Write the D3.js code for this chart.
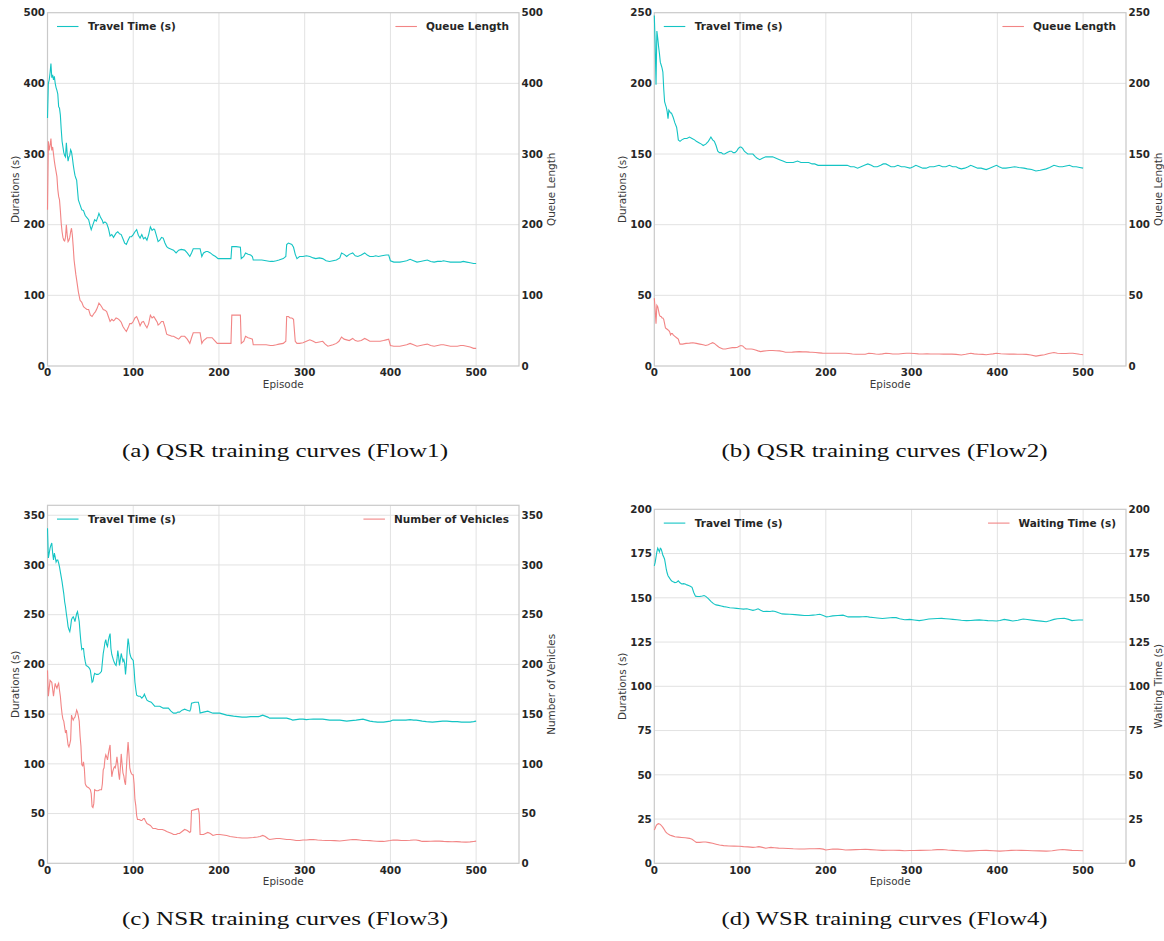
<!DOCTYPE html>
<html><head><meta charset="utf-8">
<script src="https://cdn.jsdelivr.net/npm/d3@7"></script>
<style>body{margin:0;background:#fff}svg{display:block}</style>
</head><body><svg id="chart" width="1164" height="941"></svg>
<script>
// ---------------- DATA (episode, value) ----------------
const flow1Travel = [[0,351],[1,400],[2,405],[3,415],[4,428],[5,408],[6,412],[7,405],[8,410],[9,400],[10,394],[11,390],[12,385],[13,367],[14,365],[15,355],[16,335],[17,318],[18,310],[19,302],[20,298],[21,296],[22,316],[23,300],[24,290],[25,296],[26,298],[27,306],[28,303],[29,295],[30,285],[31,277],[32,270],[33,266],[34,263],[36,235],[38,228],[40,221],[42,220],[44,213],[46,210],[48,207],[50,197],[51,193],[53,200],[55,207],[57,205],[59,212],[60,216],[62,210],[64,206],[65,202],[67,204],[69,202],[71,195],[73,184],[75,186],[77,182],[80,188],[82,190],[84,187],[86,186],[88,180],[90,174],[92,172],[94,178],[96,183],[98,183],[100,186],[102,190],[104,193],[106,185],[108,181],[110,186],[112,180],[114,182],[116,178],[118,186],[120,197],[122,192],[124,194],[125,193],[127,185],[129,176],[131,178],[133,182],[135,181],[137,174],[139,169],[141,167],[143,166],[145,165],[147,164],[150,160],[153,164],[156,165],[160,164],[163,160],[166,155],[168,160],[170,166],[174,166],[178,166],[180,155],[182,160],[185,162],[187,162],[190,160],[193,157],[196,155],[199,152],[201,152],[205,152],[210,152],[214,152],[215,169],[220,169],[225,168],[226,152],[229,155],[231,160],[234,158],[237,157],[239,155],[240,150],[245,150],[250,150],[255,149],[260,148],[263,148],[267,149],[270,150],[275,152],[278,155],[279,172],[281,174],[283,173],[285,172],[287,168],[289,158],[291,152],[294,155],[298,155],[302,156],[306,155],[310,153],[313,152],[317,153],[321,152],[325,149],[329,148],[333,149],[337,150],[341,153],[343,160],[346,158],[349,155],[352,158],[356,160],[359,156],[362,155],[366,157],[370,160],[373,157],[376,155],[380,155],[383,156],[386,155],[390,156],[395,157],[398,157],[400,149],[404,147],[408,147],[411,147],[415,148],[419,149],[423,151],[427,149],[431,147],[435,148],[439,149],[443,150],[447,148],[451,147],[455,148],[459,148],[462,149],[466,148],[470,147],[474,147],[478,147],[482,147],[485,148],[489,147],[493,146],[497,145],[500,145]];
const flow1Queue = [[0,221],[1,318],[2,305],[3,312],[4,322],[5,305],[6,310],[7,300],[8,290],[9,282],[10,275],[11,268],[12,250],[13,240],[14,235],[15,220],[16,202],[17,190],[18,182],[19,178],[20,177],[21,182],[22,200],[23,185],[24,176],[25,178],[26,182],[27,190],[28,195],[29,185],[30,169],[31,150],[32,140],[33,130],[34,122],[36,105],[38,93],[40,90],[42,84],[44,82],[46,80],[48,80],[50,72],[52,70],[54,74],[56,77],[58,82],[60,89],[62,86],[64,82],[65,80],[67,79],[69,77],[71,70],[73,63],[75,66],[77,64],[78,65],[80,68],[82,67],[84,65],[86,62],[88,56],[90,52],[92,49],[94,54],[96,60],[98,60],[100,63],[102,68],[104,70],[106,64],[108,57],[110,62],[112,63],[114,58],[116,54],[118,60],[120,72],[122,68],[124,70],[126,66],[128,62],[129,58],[131,60],[133,63],[135,63],[137,55],[139,45],[141,44],[143,43],[145,42],[147,42],[150,40],[153,38],[156,42],[160,42],[163,38],[166,32],[168,40],[170,47],[174,47],[178,47],[180,32],[182,36],[186,40],[189,40],[192,40],[195,36],[198,32],[201,32],[205,32],[210,32],[214,32],[215,72],[220,72],[225,72],[226,32],[229,35],[231,42],[234,40],[237,39],[239,38],[240,30],[245,30],[250,30],[255,30],[260,29],[263,29],[267,30],[270,31],[275,32],[278,35],[279,70],[281,70],[283,68],[285,68],[287,66],[289,35],[291,32],[294,32],[298,33],[302,35],[306,37],[310,35],[313,33],[317,34],[321,35],[324,31],[327,28],[330,29],[333,30],[337,32],[340,35],[343,41],[346,38],[349,37],[352,36],[356,39],[359,36],[362,35],[366,36],[370,39],[373,37],[376,35],[378,35],[382,35],[385,35],[388,35],[392,36],[395,37],[398,38],[400,29],[404,28],[408,28],[411,28],[415,29],[419,30],[423,32],[427,30],[431,28],[435,29],[439,30],[443,31],[447,29],[451,28],[455,29],[459,30],[462,30],[466,29],[470,28],[474,28],[478,28],[482,29],[485,29],[489,28],[493,27],[497,25],[500,25]];
const flow2Travel = [[0,248],[1,228],[2,199],[3,237],[4,232],[5,226],[6,221],[7,215],[8,213],[9,211],[10,208],[11,196],[12,187],[13,185],[14,183],[15,180],[16,175],[17,181],[18,180],[19,179],[20,179],[22,176],[24,172],[26,169],[27,165],[28,160],[30,159],[32,160],[35,161],[38,161],[41,162],[44,161],[47,160],[49,159],[52,158],[55,157],[57,156],[60,157],[63,159],[65,161],[66,162],[68,160],[70,159],[72,156],[74,152],[76,151],[78,151],[80,150],[82,150],[85,151],[88,152],[90,152],[92,151],[94,151],[96,152],[98,154],[100,155],[101,155],[103,154],[105,152],[107,151],[109,150],[112,150],[115,150],[118,148],[120,147],[123,146],[126,147],[130,148],[134,148],[138,148],[142,147],[146,146],[150,145],[154,144],[158,144],[162,144],[167,145],[171,144],[175,144],[180,144],[184,143],[187,143],[191,142],[195,142],[198,142],[203,142],[208,142],[214,142],[219,142],[225,142],[229,141],[233,141],[237,140],[241,141],[245,142],[249,143],[253,142],[256,141],[260,141],[264,142],[267,143],[270,143],[273,142],[276,141],[280,141],[284,142],[288,141],[292,141],[298,140],[302,141],[305,142],[309,141],[313,140],[317,140],[321,141],[326,141],[332,142],[336,141],[340,141],[344,142],[348,141],[352,141],[355,140],[358,139.5],[362,140],[366,141],[369,142],[373,141],[377,140],[381,140],[384,139.5],[387,139],[391,140],[395,141],[399,142],[402,141],[406,140],[410,140],[415,140.5],[420,141],[425,140.5],[431,140],[435,139.5],[440,139],[445,138],[450,138.5],[457,139.5],[461,140.5],[466,142],[469,141.5],[472,141],[476,141],[480,141.5],[484,142],[488,141],[492,141],[496,140.5],[500,140]];
const flow2Queue = [[0,48],[1,40],[2,30],[3,43],[4,42],[5,39],[6,36],[7,35],[8,35],[9,34],[10,34],[11,33],[12,30],[13,27],[15,26],[17,25],[18,24],[19,22],[20,23],[21,23],[22,22],[24,21],[26,20],[28,19],[29,17],[30,15.5],[33,15.5],[37,16],[41,16.2],[45,16.5],[49,16],[53,15.5],[57,15],[60,14.5],[63,15],[66,16],[68,16.5],[70,16],[72,15],[74,14],[76,13],[78,12.5],[80,12],[83,12],[87,12.5],[91,13],[94,13],[97,13.3],[99,14],[101,14.5],[103,14.2],[105,13],[107,12],[110,12],[113,12],[115,11.8],[118,11.3],[121,10.7],[124,10.2],[127,10.5],[131,10.8],[134,11],[138,11],[142,10.8],[146,10.7],[150,10.2],[153,9.7],[157,9.7],[161,9.8],[165,10],[169,10.2],[173,10],[177,10],[181,9.8],[184,9.7],[188,9.5],[192,9.3],[196,9.1],[200,9],[205,9],[210,9],[216,9],[220,9],[223,9],[227,8.8],[231,8.5],[235,8.3],[240,8.3],[246,8.3],[250,9],[254,8.8],[258,8.5],[262,8.3],[266,8.6],[270,9],[274,8.8],[278,8.5],[282,8.5],[285,8.5],[290,8.8],[294,9],[298,9],[303,8.8],[308,8.6],[313,8.5],[318,8.6],[322,8.5],[327,8.5],[332,8.5],[337,8.4],[342,8.5],[347,8.4],[352,8.2],[358,7.8],[363,8.3],[369,9],[373,8.6],[378,8.3],[383,8.2],[387,8],[391,8.3],[395,8.6],[399,9],[404,8.7],[409,8.5],[414,8.4],[419,8.4],[424,8.3],[429,8.3],[434,8.2],[439,7.8],[445,7],[450,7.5],[455,8],[460,8.8],[466,9.5],[470,9],[475,8.8],[480,8.8],[484,9],[488,9],[492,8.7],[496,8.3],[500,8]];
const flow3Travel = [[0,337],[1,307],[2,312],[3,317],[4,320],[5,322],[6,312],[7,305],[8,312],[9,308],[10,303],[11,305],[12,305],[13,302],[14,298],[15,293],[16,288],[17,283],[18,277],[19,271],[20,263],[21,258],[22,251],[23,245],[24,238],[25,235],[26,233],[27,238],[28,245],[29,247],[30,248],[31,246],[32,243],[33,247],[34,251],[35,253],[36,248],[37,243],[38,232],[39,222],[40,215],[41,216],[42,216],[43,208],[44,203],[45,199],[47,198],[49,196],[50,194],[51,188],[52,182],[53,183],[54,188],[55,191],[57,190],[59,190],[61,191],[63,193],[64,202],[65,211],[66,216],[67,222],[68,225],[69,220],[70,218],[71,224],[72,228],[73,231],[74,216],[75,210],[76,207],[77,204],[78,202],[79,200],[80,199],[81,205],[82,214],[83,208],[84,199],[85,205],[86,211],[87,207],[88,203],[89,205],[90,201],[91,190],[92,200],[93,215],[94,226],[95,220],[96,211],[97,208],[98,206],[99,205],[100,204],[101,195],[102,182],[103,175],[104,169],[106,168],[108,168],[110,166],[112,168],[113,170],[114,168],[116,164],[118,163],[121,162],[123,160],[125,158],[128,158],[131,158],[133,157],[135,156],[138,156],[141,156],[144,153],[147,151],[150,151],[152,152],[154,152],[157,154],[160,155],[163,154],[166,153],[167,155],[168,161],[172,162],[176,162],[177,158],[178,151],[182,152],[187,153],[190,152],[193,151],[197,151],[201,151],[205,150],[209,149],[213,148.5],[217,148],[222,147.5],[227,147],[232,147],[237,147.5],[242,147.5],[246,147.5],[248,148],[251,149],[254,148],[257,147],[259,146],[263,146],[267,146],[271,146],[275,146],[279,146],[283,145],[286,144],[290,144.5],[294,145],[298,145],[302,144.5],[306,144.8],[310,145],[315,145],[321,145],[325,144.5],[329,144],[335,144],[341,144],[345,143.5],[349,143],[354,143.5],[360,144],[364,144.5],[368,145],[372,144],[376,143],[380,142.5],[385,142],[392,142],[396,142.5],[400,143],[403,144],[408,144],[413,144],[418,144],[423,144.5],[427,144],[430,144],[434,143.5],[437,143],[442,142.5],[449,142],[455,142.5],[461,143],[466,143],[472,142.5],[478,142.5],[483,142],[488,142],[493,142],[497,142.5],[500,143]];
const flow3Vehicles = [[0,194],[1,168],[2,176],[3,184],[4,183],[5,182],[6,175],[7,168],[8,175],[9,181],[10,178],[11,176],[12,179],[13,181],[14,174],[15,168],[16,158],[17,150],[18,145],[19,143],[20,137],[21,131],[22,134],[23,126],[24,119],[25,117],[26,120],[27,124],[28,149],[29,146],[30,144],[31,146],[32,147],[33,150],[34,154],[35,152],[36,148],[37,143],[38,128],[39,118],[40,99],[41,98],[42,102],[43,95],[44,80],[45,78],[46,77],[48,76],[50,74],[51,70],[52,57],[53,56],[54,60],[55,74],[57,73],[59,73],[61,74],[63,74],[64,80],[65,94],[66,96],[67,105],[68,109],[69,107],[70,104],[71,110],[72,115],[73,119],[74,100],[75,87],[76,92],[77,95],[78,97],[79,96],[80,100],[81,107],[82,100],[83,90],[84,84],[85,96],[86,110],[87,100],[88,91],[89,88],[90,82],[91,79],[92,95],[93,110],[94,122],[95,110],[96,96],[97,92],[98,90],[99,89],[100,89],[101,80],[102,64],[103,58],[104,48],[105,44],[107,44],[109,43],[110,43],[112,45],[113,45],[114,43],[116,40],[118,39],[120,38],[123,35],[126,35],[129,34],[131,34],[134,34],[137,33],[139,32],[142,31],[145,30],[147,29],[150,29],[152,30],[154,30],[157,32],[160,34],[163,33],[166,31],[167,32],[168,53],[172,54],[176,55],[177,50],[178,29],[182,29],[187,31],[190,30],[193,28],[197,29],[201,29],[205,28.5],[209,28],[213,27],[217,26.5],[221,26],[227,25.5],[233,25.5],[240,26],[245,26.5],[248,27],[251,28],[254,27],[257,25],[259,24],[263,24.5],[267,25],[271,25],[275,24.5],[279,24],[283,24],[287,23.5],[290,23],[294,23],[298,23.5],[302,23.5],[306,23.8],[310,24],[315,23.5],[320,23.2],[325,23],[330,23],[335,22.8],[341,22.5],[346,23],[351,23.5],[356,24],[360,23.8],[364,23.5],[368,23],[372,23],[376,22.8],[380,22.5],[384,22.2],[388,22],[392,22],[396,22.5],[400,23],[403,23.5],[408,23.3],[413,23],[418,23],[423,23.2],[427,23.5],[430,23.5],[434,22.8],[437,22],[442,22],[447,22.2],[452,22.3],[457,22.3],[462,22],[467,21.8],[472,21.6],[477,21.8],[482,21.5],[488,21.3],[493,21.5],[497,22],[500,22.3]];
const flow4Travel = [[0,168],[1,170],[2,173],[3,176],[4,178],[5,177],[6,176],[7,178],[8,177.5],[9,176],[10,174],[11,173],[12,171.8],[13,169],[14,166],[15,164],[16,162.5],[18,161],[20,159.6],[22,159],[24,158.6],[26,158.8],[28,159.6],[30,158.5],[32,157.8],[34,158],[36,157.8],[38,157.3],[40,156.9],[42,156.5],[44,155.9],[46,153],[48,150.9],[50,150.8],[53,150.7],[56,151],[58,151.3],[60,150.8],[63,149.5],[66,148],[69,146.7],[72,146],[75,145.7],[78,145.4],[81,145],[84,144.8],[88,144.4],[92,144.2],[96,144],[100,143.8],[104,143.6],[108,143.8],[111,143.4],[115,142.9],[118,143.2],[121,143.8],[124,143],[127,142.3],[131,142.4],[135,142.3],[138,142.5],[141,142.3],[145,141.5],[149,140.9],[153,140.8],[158,140.7],[164,140.5],[170,140.2],[175,140],[180,140],[185,140.2],[189,140.4],[193,140.7],[197,140],[201,139.2],[204,139.4],[208,139.8],[214,140],[220,140.2],[223,139.7],[226,139.2],[232,139.2],[239,139.2],[243,139.3],[247,139.4],[251,139.1],[255,138.9],[260,138.6],[266,138.3],[272,138.6],[278,138.9],[282,138.8],[286,138.2],[292,137.6],[298,137.8],[303,137.5],[309,137.1],[314,137.5],[320,138],[325,138.2],[330,138.3],[335,138.4],[340,138.2],[344,138],[348,137.8],[353,137.6],[358,137.3],[364,137.1],[369,137.2],[374,137.4],[379,137.5],[384,137.3],[389,137.1],[394,137],[399,136.9],[403,137.2],[408,137.8],[413,137.4],[418,136.9],[424,137.3],[430,138],[435,137.7],[440,137.4],[445,137.1],[451,136.8],[457,136.5],[461,137],[466,137.8],[470,138.2],[474,138.3],[478,138.4],[483,137.8],[487,137.1],[491,137.3],[495,137.5],[500,137.5]];
const flow4Waiting = [[0,18.8],[1,19.8],[2,21.1],[3,21.8],[4,22.2],[5,22.4],[7,22],[8,21.5],[10,20.3],[12,18.8],[13,17.9],[15,16.9],[18,16],[21,15.5],[24,15],[28,14.8],[32,14.6],[36,14.4],[41,14.1],[44,13.6],[47,12.5],[49,11.8],[53,11.8],[57,12],[60,12],[64,11.7],[68,11.3],[72,10.8],[76,10.3],[81,10],[87,9.8],[93,9.7],[99,9.6],[104,9.4],[109,9.3],[115,9],[119,9.2],[122,9.4],[126,9],[130,8.5],[133,8.8],[136,9],[140,8.8],[145,8.6],[150,8.5],[156,8.4],[162,8.2],[169,8.1],[175,8.1],[181,8.2],[187,8.2],[193,8.3],[197,8],[200,7.5],[204,7.8],[208,8.1],[214,8],[219,7.8],[223,7.5],[229,7.6],[235,7.7],[240,7.8],[246,7.9],[252,7.7],[259,7.5],[266,7.3],[272,7.4],[279,7.4],[286,7.3],[292,7.1],[298,7.2],[303,7.2],[310,7.3],[317,7.4],[324,7.5],[330,7.7],[336,7.8],[342,7.5],[348,7.3],[356,7.1],[364,6.9],[371,7],[379,7.2],[387,7.3],[395,7.1],[403,6.9],[410,7.1],[416,7.3],[422,7.4],[428,7.3],[435,7.2],[441,7.1],[449,7],[457,6.9],[464,7.1],[470,7.5],[476,7.8],[481,7.6],[487,7.3],[493,7.2],[500,7.1]];

const xTicks = [0,100,200,300,400,500];
const yTicksA = [0,100,200,300,400,500];
const yTicksB = [0,50,100,150,200,250];
const yTicksC = [0,50,100,150,200,250,300,350];
const yTicksD = [0,25,50,75,100,125,150,175,200];
const captions = ["(a) QSR training curves (Flow1)","(b) QSR training curves (Flow2)","(c) NSR training curves (Flow3)","(d) WSR training curves (Flow4)"];
const leftLabel = "Durations (s)";
const xLabel = "Episode";
const leftLegend = "Travel Time (s)";
const rightLabels = ["Queue Length","Queue Length","Number of Vehicles","Waiting Time (s)"];

// ---------------- LAYOUT ----------------
const CYAN = "#14c4c4", RED = "#f28585";
const panels = [
  {x0:47.5, x1:519, y0:12.7, y1:366, ymax:500, ticks:yTicksA, travel:flow1Travel, other:flow1Queue, cap:captions[0], rl:rightLabels[0], capY:457},
  {x0:654.3, x1:1126, y0:12.7, y1:366, ymax:250, ticks:yTicksB, travel:flow2Travel, other:flow2Queue, cap:captions[1], rl:rightLabels[1], capY:457},
  {x0:47.5, x1:519, y0:505.3, y1:863.3, ymax:360, ticks:yTicksC, travel:flow3Travel, other:flow3Vehicles, cap:captions[2], rl:rightLabels[2], capY:925},
  {x0:654.3, x1:1126, y0:509.3, y1:863.3, ymax:200, ticks:yTicksD, travel:flow4Travel, other:flow4Waiting, cap:captions[3], rl:rightLabels[3], capY:925}
];

const svg = d3.select("#chart");
svg.append("rect").attr("width",1164).attr("height",941).attr("fill","#fff");

panels.forEach(p => {
  const g = svg.append("g");
  const x = d3.scaleLinear().domain([0,550]).range([p.x0,p.x1]);
  const y = d3.scaleLinear().domain([0,p.ymax]).range([p.y1,p.y0]);

  // grid
  g.selectAll(".gx").data(xTicks.filter(t=>t>0)).join("line")
    .attr("x1",d=>x(d)).attr("x2",d=>x(d)).attr("y1",p.y0).attr("y2",p.y1)
    .attr("stroke","#e2e2e2").attr("stroke-width",1);
  g.selectAll(".gy").data(p.ticks.filter(t=>t>0 && t<p.ymax)).join("line")
    .attr("x1",p.x0).attr("x2",p.x1).attr("y1",d=>y(d)).attr("y2",d=>y(d))
    .attr("stroke","#e2e2e2").attr("stroke-width",1);

  // spines
  g.append("rect").attr("x",p.x0).attr("y",p.y0).attr("width",p.x1-p.x0).attr("height",p.y1-p.y0)
    .attr("fill","none").attr("stroke","#c9c9c9").attr("stroke-width",1.2);

  // lines
  const line = d3.line().x(d=>x(d[0])).y(d=>y(d[1]));
  g.append("path").datum(p.travel).attr("d",line).attr("fill","none").attr("stroke",CYAN).attr("stroke-width",1.1);
  g.append("path").datum(p.other).attr("d",line).attr("fill","none").attr("stroke",RED).attr("stroke-width",1.1);

  const tickStyle = s => s.attr("font-family","DejaVu Sans").attr("font-weight","bold").attr("font-size","10.3px").attr("fill","#262626");
  // x tick labels
  g.selectAll(".xt").data(xTicks).join("text").call(tickStyle)
    .attr("x",d=>x(d)).attr("y",p.y1+10.3).attr("text-anchor","middle").text(d=>d);
  // left y tick labels
  g.selectAll(".yl").data(p.ticks).join("text").call(tickStyle)
    .attr("x",p.x0-2.5).attr("y",d=>y(d)).attr("dy","0.36em").attr("text-anchor","end").text(d=>d);
  // right y tick labels
  g.selectAll(".yr").data(p.ticks).join("text").call(tickStyle)
    .attr("x",p.x1+2.5).attr("y",d=>y(d)).attr("dy","0.36em").attr("text-anchor","start").text(d=>d);

  const labStyle = s => s.attr("font-family","DejaVu Sans").attr("font-size","10.4px").attr("fill","#3a3a3a");
  g.append("text").call(labStyle).attr("x",(p.x0+p.x1)/2).attr("y",p.y1+22).attr("text-anchor","middle").text(xLabel);
  const cy = (p.y0+p.y1)/2;
  g.append("text").call(labStyle).attr("transform",`translate(${p.x0-32},${cy}) rotate(-90)`).attr("text-anchor","middle").attr("dy","0.35em").text(leftLabel);
  g.append("text").call(labStyle).attr("transform",`translate(${p.x1+32},${cy}) rotate(-90)`).attr("text-anchor","middle").attr("dy","0.35em").text(p.rl);

  // legends
  const ly = p.y0 + 13.8;
  const legStyle = s => s.attr("font-family","DejaVu Sans").attr("font-weight","bold").attr("font-size","10.5px").attr("fill","#262626");
  g.append("line").attr("x1",p.x0+9.5).attr("x2",p.x0+31).attr("y1",ly).attr("y2",ly).attr("stroke",CYAN).attr("stroke-width",1.1);
  g.append("text").call(legStyle).attr("x",p.x0+40.5).attr("y",ly).attr("dy","0.36em").text(leftLegend);
  const rt = g.append("text").call(legStyle).attr("x",p.x1-10).attr("y",ly).attr("dy","0.36em").attr("text-anchor","end").text(p.rl);
  const w = rt.node().getComputedTextLength();
  g.append("line").attr("x1",p.x1-10-w-9-21.5).attr("x2",p.x1-10-w-9).attr("y1",ly).attr("y2",ly).attr("stroke",RED).attr("stroke-width",1.1);

  // caption
  const cx = p.x0 < 300 ? 285 : 884.5;
  g.append("text").attr("x",cx).attr("y",p.capY).attr("text-anchor","middle")
    .attr("font-family","Liberation Serif").attr("font-size","19.5px").attr("fill","#111")
    .attr("textLength",326).attr("lengthAdjust","spacingAndGlyphs").text(p.cap);
});
</script></body></html>
